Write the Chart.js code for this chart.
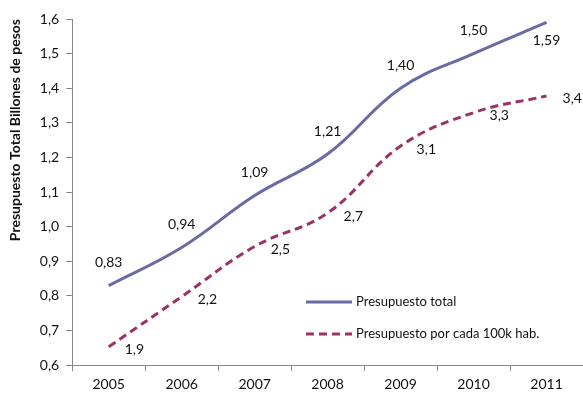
<!DOCTYPE html>
<html>
<head>
<meta charset="utf-8">
<script src="https://cdn.jsdelivr.net/npm/chart.js@4.4.1/dist/chart.umd.min.js"></script>
<style>
  html, body { margin: 0; padding: 0; background: #fff; }
  #wrap { width: 583px; height: 394px; }
</style>
</head>
<body>
<div id="wrap"><canvas id="presupuesto"></canvas></div>
<script>
const years = ['2005', '2006', '2007', '2008', '2009', '2010', '2011'];
const totalBillones = [0.83, 0.94, 1.09, 1.21, 1.40, 1.50, 1.59];
const por100kHab = [1.9, 2.2, 2.5, 2.7, 3.1, 3.3, 3.4];
const totalLabels = ['0,83', '0,94', '1,09', '1,21', '1,40', '1,50', '1,59'];
const habLabels = ['1,9', '2,2', '2,5', '2,7', '3,1', '3,3', '3,4'];

const FONT = 'Lato, "Liberation Sans", sans-serif';
const BLUE = '#6a6aa6';
const WINE = '#9c3068';

// value labels: total above each point (last one below), per-100k to the right
const valueLabels = {
    id: 'valueLabels',
    afterDatasetsDraw(chart) {
        const ctx = chart.ctx;
        ctx.save();
        ctx.font = '14px ' + FONT;
        ctx.fillStyle = '#111';
        ctx.textBaseline = 'middle';
        chart.data.datasets.forEach((ds, i) => {
            const meta = chart.getDatasetMeta(i);
            meta.data.forEach((pt, j) => {
                const txt = ds.valueText[j];
                if (i === 0) {
                    ctx.textAlign = 'center';
                    const dy = j === meta.data.length - 1 ? 18 : -23;
                    ctx.fillText(txt, pt.x, pt.y + dy);
                } else {
                    ctx.textAlign = 'left';
                    ctx.fillText(txt, pt.x + 16, pt.y + 3);
                }
            });
        });
        ctx.restore();
    }
};

// legend box sitting inside the plot, lower right
const innerLegend = {
    id: 'innerLegend',
    afterDraw(chart) {
        const ctx = chart.ctx;
        const x0 = 306, x1 = 352;
        const rows = [302, 334];
        ctx.save();
        ctx.font = '13px ' + FONT;
        ctx.fillStyle = '#111';
        ctx.textAlign = 'left';
        ctx.textBaseline = 'middle';
        chart.data.datasets.forEach((ds, i) => {
            const y = rows[i];
            ctx.strokeStyle = ds.borderColor;
            ctx.lineWidth = 3;
            ctx.setLineDash(ds.borderDash || []);
            ctx.beginPath();
            ctx.moveTo(x0, y);
            ctx.lineTo(x1, y);
            ctx.stroke();
            ctx.setLineDash([]);
            ctx.fillText(ds.label, x1 + 4, y);
        });
        ctx.restore();
    }
};

new Chart(document.getElementById('presupuesto'), {
    type: 'line',
    data: {
        labels: years,
        datasets: [
            {
                label: 'Presupuesto total',
                data: totalBillones,
                valueText: totalLabels,
                borderColor: BLUE,
                borderWidth: 3,
                tension: 0.4,
                pointRadius: 0,
                yAxisID: 'y'
            },
            {
                label: 'Presupuesto por cada 100k hab.',
                data: por100kHab,
                valueText: habLabels,
                borderColor: WINE,
                borderWidth: 3,
                borderDash: [8, 5],
                tension: 0.4,
                pointRadius: 0,
                yAxisID: 'y2'
            }
        ]
    },
    options: {
        responsive: true,
        maintainAspectRatio: false,
        animation: false,
        layout: { padding: { top: 19, right: 0, left: 7, bottom: -4 } },
        plugins: {
            legend: { display: false },
            tooltip: { enabled: false }
        },
        scales: {
            x: {
                offset: true,
                grid: {
                    offset: true,
                    drawOnChartArea: false,
                    color: '#888',
                    tickLength: 6
                },
                border: { color: '#888', width: 1 },
                ticks: { color: '#111', font: { family: FONT, size: 14 }, padding: 5 }
            },
            y: {
                min: 0.6,
                max: 1.6,
                grid: {
                    drawOnChartArea: false,
                    color: '#888',
                    tickLength: 6
                },
                border: { color: '#888', width: 1 },
                ticks: {
                    stepSize: 0.1,
                    color: '#111',
                    font: { family: FONT, size: 14 },
                    padding: 7,
                    callback: v => v.toFixed(1).replace('.', ',')
                },
                title: {
                    display: true,
                    text: 'Presupuesto Total Billones de pesos',
                    align: 'end',
                    color: '#111',
                    font: { family: FONT, size: 14, weight: 'bold' },
                    padding: { top: 0, bottom: 9 }
                }
            },
            y2: {
                display: false,
                min: 1.79,
                max: 3.86
            }
        }
    },
    plugins: [valueLabels, innerLegend]
});
</script>
</body>
</html>
